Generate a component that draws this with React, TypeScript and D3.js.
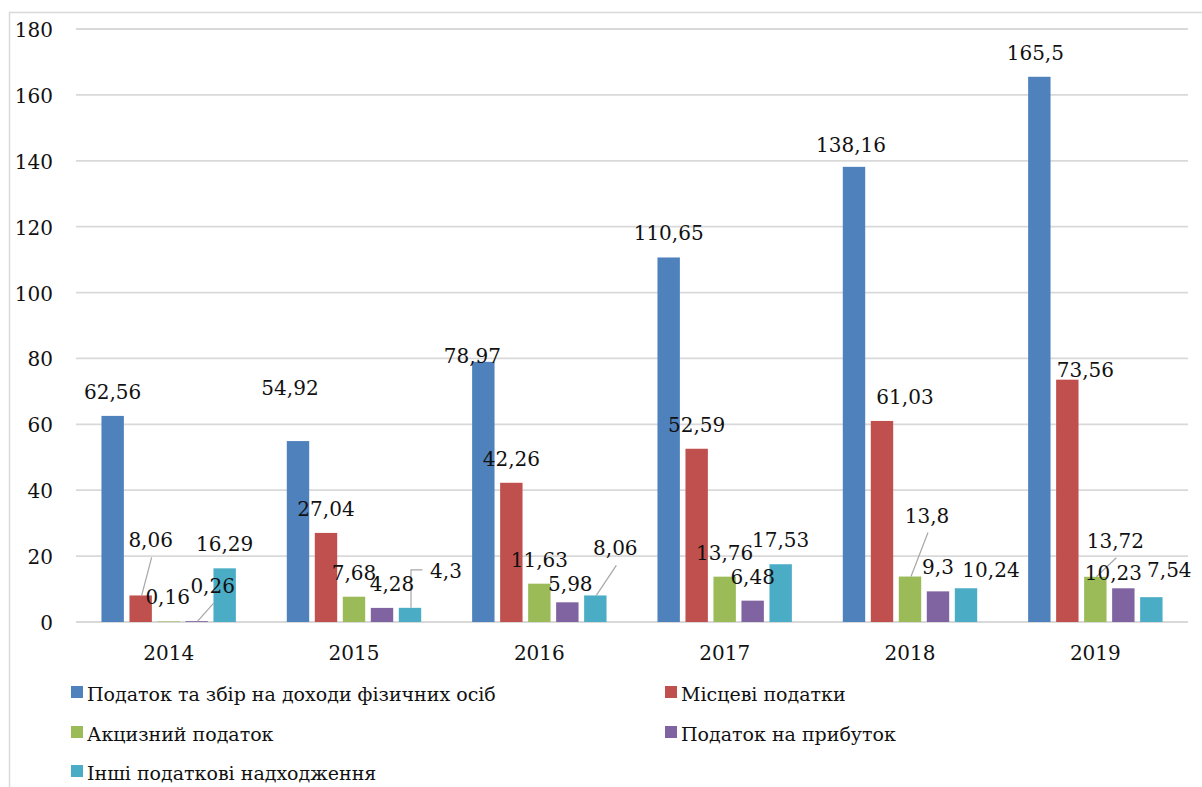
import React from 'react';
import * as d3 from 'd3';

// Tax revenues by year, bn UAH
const years = ['2014', '2015', '2016', '2017', '2018', '2019'];
const seriesNames = [
  'Податок та збір на доходи фізичних осіб',
  'Місцеві податки',
  'Акцизний податок',
  'Податок на прибуток',
  'Інші податкові надходження',
];
const pdfo = [62.56, 54.92, 78.97, 110.65, 138.16, 165.5];
const localTaxes = [8.06, 27.04, 42.26, 52.59, 61.03, 73.56];
const excise = [0.16, 7.68, 11.63, 13.76, 13.8, 13.72];
const profitTax = [0.26, 4.28, 5.98, 6.48, 9.3, 10.23];
const otherTaxes = [16.29, 4.3, 8.06, 17.53, 10.24, 7.54];
const yTicks = [0, 20, 40, 60, 80, 100, 120, 140, 160, 180];

const seriesValues = [pdfo, localTaxes, excise, profitTax, otherTaxes];
const colors = ['#4F81BD', '#C0504D', '#9BBB59', '#8064A2', '#4BACC6'];

// Hand-placed data labels: offset from the default spot above the bar,
// optionally with a leader line back to the bar.
type LabelAdj = { dx: number; dy: number; leader?: 'line' | 'elbow' };
const labelAdjust: Record<string, LabelAdj> = {
  '0-1': { dx: -8, dy: -29 },
  '0-2': { dx: -11, dy: 18 },
  '0-4': { dx: -3, dy: 2 },
  '0-5': { dx: -4, dy: 0 },
  '1-0': { dx: 10, dy: -31, leader: 'line' },
  '1-4': { dx: 23, dy: 0 },
  '1-5': { dx: 18, dy: 14 },
  '2-0': { dx: -1, dy: 0 },
  '2-4': { dx: 17, dy: -37, leader: 'line' },
  '2-5': { dx: 20, dy: -12, leader: 'line' },
  '3-0': { dx: 16, dy: -11, leader: 'line' },
  '3-1': { dx: 10, dy: 0 },
  '3-2': { dx: 3, dy: 6 },
  '3-5': { dx: -10, dy: 9 },
  '4-1': { dx: 36, dy: -13, leader: 'elbow' },
  '4-2': { dx: 20, dy: -23, leader: 'line' },
  '4-4': { dx: 25, dy: 6 },
  '4-5': { dx: 18, dy: -3 },
};

const W = 1202;
const H = 787;
const left = 76;
const right = 1188;
const top = 29;
const bottom = 622;
const FS = 20;
const FONT = "'DejaVu Serif', serif";

const fmt = (v: number) => String(v).replace('.', ',');

const textStyle: React.CSSProperties = { fontFamily: FONT, fontSize: FS };
const legendStyle: React.CSSProperties = { fontFamily: FONT, fontSize: 19 };

export default function App() {
  const x = d3.scaleBand<string>().domain(years).range([left, right]).padding(0);
  const inner = d3
    .scaleBand<number>()
    .domain(d3.range(seriesNames.length))
    .range([-70, 70])
    .paddingInner(0.2)
    .paddingOuter(0.1);
  const y = d3.scaleLinear().domain([0, 180]).range([bottom, top]);

  const cx = (yr: string) => (x(yr) ?? 0) + x.bandwidth() / 2;
  const bw = inner.bandwidth();

  const bars: React.ReactNode[] = [];
  const labels: React.ReactNode[] = [];
  const leaders: React.ReactNode[] = [];

  seriesValues.forEach((vals, si) => {
    vals.forEach((v, yi) => {
      const yr = years[yi];
      const bx = cx(yr) + (inner(si) ?? 0);
      const barTop = y(v);
      bars.push(
        <rect key={`b-${si}-${yi}`} x={bx} y={barTop} width={bw} height={bottom - barTop} fill={colors[si]} />
      );
      const adj = labelAdjust[`${si}-${yi}`] ?? { dx: 0, dy: 0 };
      const barMid = bx + bw / 2;
      const lx = barMid + adj.dx;
      const ly = barTop - 17 + adj.dy;
      const text = fmt(v);
      labels.push(
        <text key={`l-${si}-${yi}`} x={lx} y={ly} textAnchor="middle" style={textStyle} fill="#111">
          {text}
        </text>
      );
      if (adj.leader === 'line') {
        leaders.push(
          <line key={`ld-${si}-${yi}`} x1={barMid + 1} y1={barTop} x2={lx + 1} y2={ly + 10} stroke="#a6a6a6" strokeWidth={1.2} />
        );
      } else if (adj.leader === 'elbow') {
        const textW = text.length * FS * 0.52;
        const midY = ly - 8;
        leaders.push(
          <path
            key={`ld-${si}-${yi}`}
            d={`M${barMid + 1},${barTop} V${midY} H${lx - textW / 2 - 8}`}
            fill="none"
            stroke="#a6a6a6"
            strokeWidth={1.2}
          />
        );
      }
    });
  });

  const legendItems = [
    { si: 0, lx: 71, row: 0 },
    { si: 1, lx: 665, row: 0 },
    { si: 2, lx: 71, row: 1 },
    { si: 3, lx: 665, row: 1 },
    { si: 4, lx: 71, row: 2 },
  ];
  const legendBase = [701, 741, 780];

  return (
    <svg width={W} height={H} viewBox={`0 0 ${W} ${H}`} style={{ position: 'absolute', left: 0, top: 0, background: '#fff' }}>
      <rect x={0} y={0} width={W} height={H} fill="#fff" />
      <rect x={9.5} y={12.5} width={W + 20} height={H + 20} fill="none" stroke="#d9d9d9" strokeWidth={1.5} />
      {yTicks.map((t) => (
        <g key={`t-${t}`}>
          <line x1={left} x2={right} y1={y(t)} y2={y(t)} stroke="#d9d9d9" strokeWidth={1.8} />
          <text x={53} y={y(t) + 8} textAnchor="end" style={textStyle} fill="#111">
            {t}
          </text>
        </g>
      ))}
      {bars}
      {leaders}
      {labels}
      {years.map((yr) => (
        <text key={`x-${yr}`} x={cx(yr)} y={660} textAnchor="middle" style={textStyle} fill="#111">
          {yr}
        </text>
      ))}
      {legendItems.map((it) => (
        <g key={`lg-${it.si}`}>
          <rect x={it.lx} y={legendBase[it.row] - 15} width={12} height={12} fill={colors[it.si]} />
          <text x={it.lx + 16} y={legendBase[it.row]} style={legendStyle} fill="#111">
            {seriesNames[it.si]}
          </text>
        </g>
      ))}
    </svg>
  );
}
